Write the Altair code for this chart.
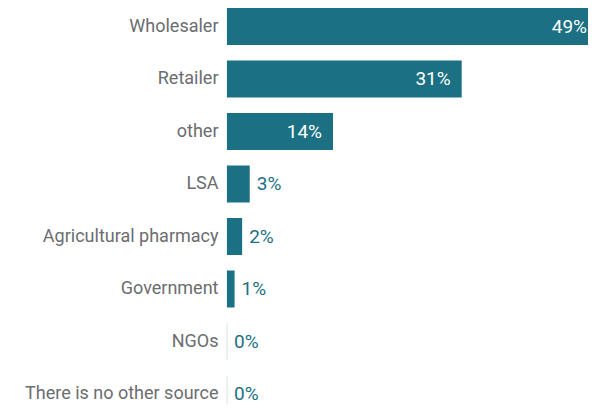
import altair as alt
import pandas as pd

categories = ["Wholesaler", "Retailer", "other", "LSA", "Agricultural pharmacy",
              "Government", "NGOs", "There is no other source"]
values = [49, 31, 14, 3, 2, 1, 0, 0]

df = pd.DataFrame({"category": categories, "value": values})

TEAL = "#1b7083"
LIGHT = "#c6dae1"
GRAY = "#6b6d70"

STEP = 52.5
BAR = 37
PLOT_H = STEP * (8 - (STEP - BAR) / STEP)

y_enc = alt.Y(
    "category:N",
    sort=categories,
    scale=alt.Scale(paddingInner=(STEP - BAR) / STEP, paddingOuter=0),
    axis=alt.Axis(title=None, domain=False, ticks=False, labelPadding=9,
                  labelFontSize=18, labelFont="Roboto", labelColor=GRAY,
                  labelLimit=400),
)
x_scale = alt.Scale(domain=[0, 49], nice=False, zero=True)

base = alt.Chart(df).encode(y=y_enc)

zero_line = base.mark_tick(color=LIGHT, thickness=1, size=BAR, orient="vertical").encode(
    x=alt.datum(0, scale=x_scale, axis=None)
)

bars = base.mark_bar(color=TEAL).encode(
    x=alt.X("value:Q", scale=x_scale, axis=None)
)

labels_in = base.transform_filter("datum.value >= 10").transform_calculate(
    label="format(datum.value, 'd') + '%'"
).mark_text(align="right", baseline="middle", dx=-11, font="Roboto",
            fontSize=19, color="white").encode(
    x=alt.X("value:Q", scale=x_scale, axis=None), text="label:N"
)

labels_out = base.transform_filter("datum.value < 10").transform_calculate(
    label="format(datum.value, 'd') + '%'"
).mark_text(align="left", baseline="middle", dx=7, font="Roboto",
            fontSize=19, color=TEAL).encode(
    x=alt.X("value:Q", scale=x_scale, axis=None), text="label:N"
)

chart = alt.layer(zero_line, bars, labels_in, labels_out).properties(
    width=371,
    height=PLOT_H,
    padding={"left": 219, "top": 0, "right": -10, "bottom": 396 - PLOT_H},
    autosize=alt.AutoSizeParams(type="none"),
).configure_view(stroke=None)

chart.save("out.html", embed_options={"renderer": "svg", "actions": False})
